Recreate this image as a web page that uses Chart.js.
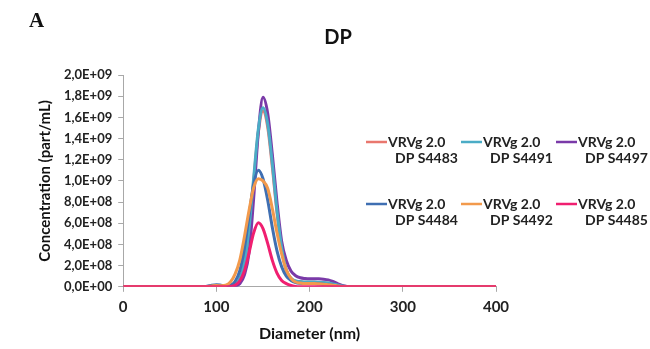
<!DOCTYPE html>
<html>
<head>
<meta charset="utf-8">
<script src="https://cdn.jsdelivr.net/npm/chart.js@4.4.1/dist/chart.umd.min.js"></script>
<style>
  html, body { margin: 0; padding: 0; background: #fff; }
  #wrap { width: 650px; height: 349px; }
</style>
</head>
<body>
<div id="wrap"><canvas id="myChart"></canvas></div>
<script>
// diameter (nm)
var diameters = [0, 50, 85, 90, 95, 100, 105, 110, 115, 120, 125, 130, 135, 140, 145, 150, 155, 160, 165, 170,
                 175, 180, 185, 190, 195, 200, 205, 210, 215, 220, 225, 230, 235, 240, 245, 250, 260, 300, 350, 400];

// concentration, in units of 1E+08 part/mL
var s4483 = [0, 0, 0, 0.02, 0.06, 0.08, 0.05, 0.03, 0.05, 0.18, 0.7, 2.2, 5.3, 10.0, 14.6, 16.6, 15.1, 11.3, 7.0, 3.6,
             1.55, 0.78, 0.52, 0.47, 0.43, 0.42, 0.42, 0.4, 0.38, 0.33, 0.25, 0.15, 0.07, 0.02, 0, 0, 0, 0, 0, 0];
var s4491 = [0, 0, 0, 0.02, 0.08, 0.1, 0.05, 0.03, 0.06, 0.2, 0.75, 2.3, 5.5, 10.3, 14.9, 16.9, 15.4, 11.6, 7.2, 3.7,
             1.6, 0.8, 0.55, 0.5, 0.45, 0.45, 0.45, 0.42, 0.4, 0.35, 0.27, 0.17, 0.08, 0.03, 0.01, 0, 0, 0, 0, 0];
var s4497 = [0, 0, 0, 0, 0, 0.05, 0.05, 0.03, 0.04, 0.08, 0.28, 1.1, 3.2, 8.4, 14.6, 17.9, 16.4, 12.5, 8.0, 4.3,
             2.5, 1.5, 1.05, 0.85, 0.78, 0.75, 0.75, 0.75, 0.72, 0.65, 0.5, 0.3, 0.12, 0.04, 0.01, 0, 0, 0, 0, 0];
var s4484 = [0, 0, 0, 0.05, 0.15, 0.2, 0.15, 0.08, 0.15, 0.5, 1.5, 3.6, 6.7, 9.7, 11.0, 10.2, 8.2, 5.6, 3.4, 1.9,
             1.0, 0.6, 0.4, 0.33, 0.3, 0.3, 0.3, 0.28, 0.25, 0.2, 0.15, 0.08, 0.04, 0.01, 0, 0, 0, 0, 0, 0];
var s4492 = [0, 0, 0, 0.02, 0.08, 0.12, 0.1, 0.15, 0.45, 1.2, 2.5, 4.7, 7.2, 9.35, 10.2, 10.0, 9.3, 7.4, 5.1, 3.1,
             1.6, 0.8, 0.45, 0.35, 0.3, 0.3, 0.3, 0.28, 0.25, 0.2, 0.15, 0.08, 0.03, 0.01, 0, 0, 0, 0, 0, 0];
var s4485 = [0, 0, 0, 0, 0, 0, 0, 0.01, 0.04, 0.15, 0.55, 1.5, 3.2, 5.1, 6.05, 5.5, 4.1, 2.5, 1.3, 0.6,
             0.3, 0.12, 0.04, 0.01, 0, 0, 0, 0, 0, 0, 0, 0, 0, 0, 0, 0, 0, 0, 0, 0];

var seriesNames = [['VRVg 2.0', 'DP S4483'], ['VRVg 2.0', 'DP S4491'], ['VRVg 2.0', 'DP S4497'],
                   ['VRVg 2.0', 'DP S4484'], ['VRVg 2.0', 'DP S4492'], ['VRVg 2.0', 'DP S4485']];
var seriesValues = [s4483, s4491, s4497, s4484, s4492, s4485];
var seriesColors = ['#e9776e', '#4bacc6', '#7a3aa8', '#3f6fb2', '#f29a4c', '#f01f70'];
var drawOrder = [6, 4, 5, 2, 1, 0];   // lower = drawn on top

function toPoints(vals) {
  return vals.map(function (v, i) { return { x: diameters[i], y: v }; });
}

function sciLabel(v) {
  var val = v * 1e8;
  if (val === 0) return '0,0E+00';
  var e = Math.floor(Math.log10(val) + 1e-9);
  var m = val / Math.pow(10, e);
  return m.toFixed(1).replace('.', ',') + 'E+' + (e < 10 ? '0' + e : e);
}

var extras = {
  id: 'extras',
  afterDraw: function (chart) {
    var ctx = chart.ctx;
    ctx.save();
    ctx.fillStyle = '#111';
    ctx.textBaseline = 'middle';
    ctx.font = 'bold 21px "Liberation Serif"';
    ctx.fillText('A', 29, 22);
    ctx.font = 'bold 20px Lato';
    ctx.textAlign = 'center';
    ctx.fillText('DP', 338, 38);

    // legend, 3 columns x 2 rows, two-line labels
    var colX = [366, 461, 556];
    var rowY = [142, 204];
    ctx.textAlign = 'left';
    ctx.font = 'bold 14px Lato';
    chart.data.datasets.forEach(function (ds, i) {
      var x = colX[i % 3], y = rowY[Math.floor(i / 3)];
      ctx.strokeStyle = ds.borderColor;
      ctx.lineWidth = 2.5;
      ctx.beginPath();
      ctx.moveTo(x, y);
      ctx.lineTo(x + 21, y);
      ctx.stroke();
      ctx.fillStyle = '#222';
      ctx.fillText(ds.label[0], x + 22, y);
      ctx.fillText(ds.label[1], x + 29, y + 16);
    });
    ctx.restore();
  }
};

var ctx = document.getElementById('myChart');
var chart = new Chart(ctx, {
  type: 'line',
  data: {
    datasets: seriesValues.map(function (vals, i) {
      return {
        label: seriesNames[i],
        data: toPoints(vals),
        borderColor: seriesColors[i],
        backgroundColor: seriesColors[i],
        borderWidth: 3,
        pointRadius: 0,
        cubicInterpolationMode: 'monotone',
        order: drawOrder[i]
      };
    })
  },
  options: {
    responsive: true,
    maintainAspectRatio: false,
    animation: false,
    layout: { padding: { top: 75, left: 32, right: 154, bottom: 2 } },
    plugins: {
      legend: { display: false },
      title: { display: false },
      tooltip: { enabled: false }
    },
    scales: {
      x: {
        type: 'linear',
        min: 0,
        max: 400,
        ticks: { stepSize: 100, color: '#222', font: { family: 'Lato', size: 15, weight: 'bold' }, padding: 6 },
        grid: { drawOnChartArea: false, tickLength: 5, color: '#a8a8a8' },
        border: { color: '#a8a8a8' },
        title: { display: true, text: 'Diameter (nm)', color: '#111', font: { family: 'Lato', size: 16, weight: 'bold' }, padding: { top: 2 } }
      },
      y: {
        min: 0,
        max: 20,
        ticks: { stepSize: 2, color: '#222', font: { family: 'Lato', size: 13, weight: 'bold' }, padding: 6,
                 callback: function (v) { return sciLabel(v); } },
        grid: { drawOnChartArea: false, tickLength: 5, color: '#a8a8a8' },
        border: { color: '#a8a8a8' },
        title: { display: true, text: 'Concentration (part/mL)', color: '#111', font: { family: 'Lato', size: 15, weight: 'bold' }, padding: { bottom: 4 } }
      }
    }
  },
  plugins: [extras]
});
</script>
</body>
</html>
